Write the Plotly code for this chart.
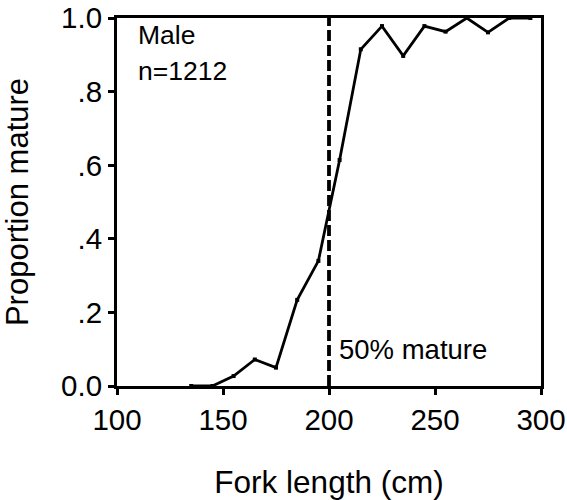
import plotly.graph_objects as go

fork_length = [135, 145, 155, 165, 175, 185, 195, 205, 215, 225, 235, 245, 255, 265, 275, 285, 295]
prop_mature = [0.0, 0.0, 0.027, 0.072, 0.05, 0.234, 0.34, 0.614, 0.915, 0.978, 0.897, 0.978, 0.963, 1.0, 0.961, 1.0, 1.0]
l50 = 200
y_ticks = [0.0, 0.2, 0.4, 0.6, 0.8, 1.0]
y_ticktext = ["0.0", ".2", ".4", ".6", ".8", "1.0"]
x_ticks = [100, 150, 200, 250, 300]

font = "Liberation Sans, Arial, sans-serif"

fig = go.Figure()
fig.add_trace(go.Scatter(
    x=fork_length, y=prop_mature, mode="lines+markers",
    line=dict(color="black", width=2.8),
    marker=dict(symbol="square", size=4, color="black"),
    showlegend=False, cliponaxis=False))
fig.add_trace(go.Scatter(
    x=[l50, l50], y=[0, 1], mode="lines",
    line=dict(color="black", width=3.8, dash="11px,4px"),
    showlegend=False))

fig.add_annotation(x=0.045, y=1.0, xref="paper", yref="paper", text="Male",
                   showarrow=False, xanchor="left", yanchor="top", align="left",
                   font=dict(family=font, size=26.5, color="black"))
fig.add_annotation(x=0.045, y=0.902, xref="paper", yref="paper", text="n=1212",
                   showarrow=False, xanchor="left", yanchor="top", align="left",
                   font=dict(family=font, size=26.5, color="black"))
fig.add_annotation(x=l50, y=0.1, xref="x", yref="y", text="50% mature", xshift=8,
                   showarrow=False, xanchor="left", yanchor="middle",
                   font=dict(family=font, size=27.5, color="black"))

axis_common = dict(showline=True, linecolor="black", linewidth=3, mirror=True,
                   ticks="outside", ticklen=6, tickwidth=2.5, tickcolor="black",
                   showgrid=False, zeroline=False, automargin=False,
                   tickfont=dict(family=font, size=29.5, color="black"))

fig.update_xaxes(range=[100, 300], tickvals=x_ticks,
                 title=dict(text="Fork length (cm)", font=dict(family=font, size=31.5, color="black"), standoff=42),
                 **axis_common)
fig.update_yaxes(range=[0, 1], tickvals=y_ticks, ticktext=y_ticktext,
                 title=dict(text="Proportion mature", font=dict(family=font, size=31, color="black"), standoff=26),
                 **axis_common)

fig.update_layout(width=567, height=500, margin=dict(l=117, r=26, t=18, b=114),
                  plot_bgcolor="white", paper_bgcolor="white")

fig.write_html("out.html")
